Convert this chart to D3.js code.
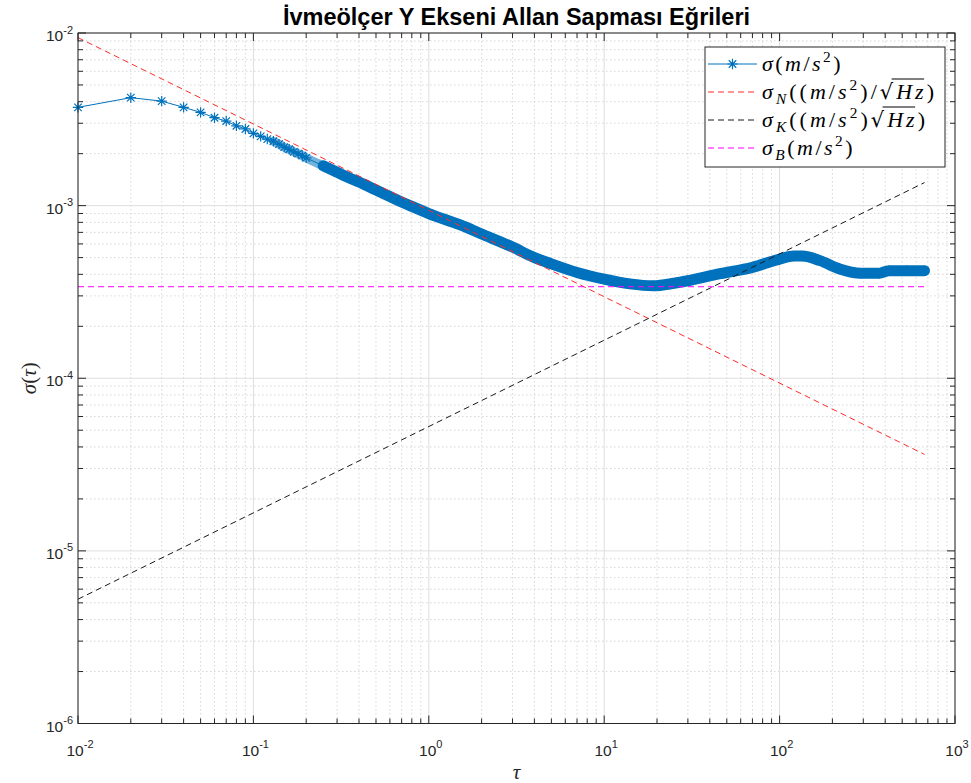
<!DOCTYPE html>
<html><head><meta charset="utf-8">
<script src="https://cdn.jsdelivr.net/npm/d3@7"></script>
<style>
html,body{margin:0;padding:0;background:#fff;}
svg{display:block;}
</style></head>
<body>
<svg id="chart" width="971" height="783"></svg>
<script>
// ---- data ----
const tau = [0.01,0.02,0.03,0.04,0.05,0.06,0.07,0.08,0.09,0.10,0.11,0.12,0.13,0.14,0.15,0.16,0.17,0.18,0.19,0.20,
  0.25,0.3,0.35,0.4,0.5,0.6,0.7,0.8,1.0,1.5,2.0,3.0,4.0,5.0,7.0,10,14,19,25,30,45,70,100,120,135,170,220,290,370,420,530,670];
const sigma = [3.71e-3,4.22e-3,4.03e-3,3.71e-3,3.47e-3,3.23e-3,3.09e-3,2.90e-3,2.78e-3,2.62e-3,2.52e-3,2.43e-3,2.36e-3,2.27e-3,2.18e-3,2.12e-3,2.05e-3,2.00e-3,1.95e-3,1.89e-3,
  1.70e-3,1.56e-3,1.45e-3,1.37e-3,1.23e-3,1.13e-3,1.05e-3,9.9e-4,9.0e-4,7.75e-4,6.85e-4,5.75e-4,5.0e-4,4.6e-4,4.1e-4,3.75e-4,3.52e-4,3.43e-4,3.55e-4,3.67e-4,4.02e-4,4.39e-4,4.90e-4,5.1e-4,5.1e-4,4.8e-4,4.3e-4,4.06e-4,4.06e-4,4.2e-4,4.2e-4,4.2e-4];
const refTau = [0.01, 670];
const sigmaN = [9.4e-3, 3.62e-5];
const sigmaK = [5.25e-6, 1.36e-3];
const sigmaB = [3.39e-4, 3.39e-4];
const xTickExp = [-2,-1,0,1,2,3];
const yTickExp = [-6,-5,-4,-3,-2];
const titleText = "İvmeölçer Y Ekseni Allan Sapması Eğrileri";

// ---- layout ----
const L = 78, R = 955, T = 33, B = 723.5;
const svg = d3.select("#chart");
const x = d3.scaleLog().domain([1e-2, 1e3]).range([L, R]);
const y = d3.scaleLog().domain([1e-6, 1e-2]).range([B, T]);
const axisCol = "#262626";
const sansFont = "'Liberation Sans', Arial, Helvetica, sans-serif";
const serifFont = "'Liberation Serif', 'DejaVu Serif', serif";

const minorX = [], minorY = [];
for (let e = -2; e < 3; e++) for (let m = 2; m <= 9; m++) minorX.push(m * Math.pow(10, e));
for (let e = -6; e < -2; e++) for (let m = 2; m <= 9; m++) minorY.push(m * Math.pow(10, e));
const majorX = xTickExp.map(e => Math.pow(10, e));
const majorY = yTickExp.map(e => Math.pow(10, e));

// grid
const grid = svg.append("g");
grid.selectAll(".mgx").data(minorX).join("line")
  .attr("x1", d => x(d)).attr("x2", d => x(d)).attr("y1", T).attr("y2", B)
  .attr("stroke", "#cccccc").attr("stroke-width", 0.8).attr("stroke-dasharray", "1.5,2.5");
grid.selectAll(".mgy").data(minorY).join("line")
  .attr("y1", d => y(d)).attr("y2", d => y(d)).attr("x1", L).attr("x2", R)
  .attr("stroke", "#cccccc").attr("stroke-width", 0.8).attr("stroke-dasharray", "1.5,2.5");
grid.selectAll(".gx").data(majorX).join("line")
  .attr("x1", d => x(d)).attr("x2", d => x(d)).attr("y1", T).attr("y2", B)
  .attr("stroke", "#dedede").attr("stroke-width", 1);
grid.selectAll(".gy").data(majorY).join("line")
  .attr("y1", d => y(d)).attr("y2", d => y(d)).attr("x1", L).attr("x2", R)
  .attr("stroke", "#dedede").attr("stroke-width", 1);

const plot = svg.append("g");
function refLine(vals, col) {
  const pts = refTau.map((t, i) => [x(t), y(vals[i])]);
  plot.append("path").attr("d", d3.line()(pts)).attr("fill", "none")
    .attr("stroke", col).attr("stroke-width", 1).attr("stroke-dasharray", "6,4");
}

// blue data: thin line, dense band of overlapping markers, markers
const blue = "#0072BD";
const pts = tau.map((t, i) => [x(t), y(sigma[i])]);
plot.append("path").attr("d", d3.line()(pts)).attr("fill", "none").attr("stroke", blue).attr("stroke-width", 1);
const softPts = pts.filter((p, i) => tau[i] >= 0.13 && tau[i] <= 0.4);
plot.append("path").attr("d", d3.line().curve(d3.curveMonotoneX)(softPts)).attr("fill", "none")
  .attr("stroke", blue).attr("stroke-opacity", 0.55).attr("stroke-width", 9).attr("stroke-linecap", "round");
const densePts = pts.filter((p, i) => tau[i] >= 0.25);
plot.append("path").attr("d", d3.line().curve(d3.curveMonotoneX)(densePts)).attr("fill", "none")
  .attr("stroke", blue).attr("stroke-width", 11).attr("stroke-linecap", "round").attr("stroke-linejoin", "round");
function starPath(r) {
  const d = r * 0.72;
  return `M${-r},0L${r},0M0,${-r}L0,${r}M${-d},${-d}L${d},${d}M${-d},${d}L${d},${-d}`;
}
plot.selectAll(".mk").data(pts).join("path")
  .attr("transform", p => `translate(${p[0]},${p[1]})`)
  .attr("d", starPath(5.2)).attr("fill", "none").attr("stroke", blue).attr("stroke-width", 1.2);

refLine(sigmaN, "#ff2a2a");
refLine(sigmaK, "#1a1a1a");
refLine(sigmaB, "#ff00ff");

// axes box
const ax = svg.append("g");
ax.append("rect").attr("x", L).attr("y", T).attr("width", R - L).attr("height", B - T)
  .attr("fill", "none").attr("stroke", axisCol).attr("stroke-width", 1);
function ticksX(vals, len) {
  ax.selectAll(null).data(vals).join("line")
    .attr("x1", d => x(d)).attr("x2", d => x(d)).attr("y1", B).attr("y2", B - len).attr("stroke", axisCol);
  ax.selectAll(null).data(vals).join("line")
    .attr("x1", d => x(d)).attr("x2", d => x(d)).attr("y1", T).attr("y2", T + len).attr("stroke", axisCol);
}
function ticksY(vals, len) {
  ax.selectAll(null).data(vals).join("line")
    .attr("y1", d => y(d)).attr("y2", d => y(d)).attr("x1", L).attr("x2", L + len).attr("stroke", axisCol);
  ax.selectAll(null).data(vals).join("line")
    .attr("y1", d => y(d)).attr("y2", d => y(d)).attr("x1", R).attr("x2", R - len).attr("stroke", axisCol);
}
ticksX(majorX, 8); ticksX(minorX, 5);
ticksY(majorY, 8); ticksY(minorY, 5);

// tick labels
function powLabel(g, e, px, py, anchor) {
  const t = g.append("text").attr("x", px).attr("y", py).attr("text-anchor", anchor)
    .attr("font-family", sansFont).attr("fill", axisCol).attr("font-size", 15.5);
  t.append("tspan").text("10");
  t.append("tspan").attr("dy", -7.5).attr("font-size", 11).text(String(e));
}
xTickExp.forEach(e => powLabel(ax, e, x(Math.pow(10, e)) + 2, B + 32, "middle"));
yTickExp.forEach(e => powLabel(ax, e, L - 5, y(Math.pow(10, e)) + 8, "end"));

// axis labels
svg.append("text").attr("x", (L + R) / 2).attr("y", B + 55).attr("text-anchor", "middle")
  .attr("font-family", serifFont).attr("font-style", "italic").attr("font-size", 21).attr("fill", axisCol).text("τ");
svg.append("text").attr("transform", `translate(36,${(T + B) / 2}) rotate(-90)`).attr("text-anchor", "middle")
  .attr("font-family", serifFont).attr("font-size", 21).attr("fill", axisCol)
  .call(t => {
    t.append("tspan").attr("font-style", "italic").text("σ");
    t.append("tspan").text("(");
    t.append("tspan").attr("font-style", "italic").text("τ");
    t.append("tspan").text(")");
  });

// title
svg.append("text").attr("x", (L + R) / 2).attr("y", 25).attr("text-anchor", "middle")
  .attr("font-family", sansFont).attr("font-weight", "bold").attr("font-size", 23.5).attr("fill", "#000").text(titleText);

// legend
const leg = svg.append("g");
leg.append("rect").attr("x", 705).attr("y", 47).attr("width", 240).attr("height", 120)
  .attr("fill", "#fff").attr("stroke", axisCol).attr("stroke-width", 1);
const legendItems = [
  {col: blue, dash: null, marker: true, w: 81, parts: [["σ","i"],["(","n"],["m","i"],["/","n"],["s","i"],["2","sup"],[")","n"]]},
  {col: "#ff2a2a", dash: "6,4", w: 175, parts: [["σ","i"],["N","sub"],["((","n"],["m","i"],["/","n"],["s","i"],["2","sup"],[")/","n"],["√","n"],["Hz","io"],[")","n"]]},
  {col: "#1a1a1a", dash: "6,4", w: 166, parts: [["σ","i"],["K","sub"],["((","n"],["m","i"],["/","n"],["s","i"],["2","sup"],[")","n"],["√","n"],["Hz","io"],[")","n"]]},
  {col: "#ff00ff", dash: "6,4", w: 93, parts: [["σ","i"],["B","sub"],["(","n"],["m","i"],["/","n"],["s","i"],["2","sup"],[")","n"]]}
];
const rowY = [64, 92, 120, 148];
legendItems.forEach((it, k) => {
  const yy = rowY[k];
  leg.append("line").attr("x1", 708).attr("x2", 757).attr("y1", yy).attr("y2", yy)
    .attr("stroke", it.col).attr("stroke-width", 1).attr("stroke-dasharray", it.dash);
  if (it.marker) leg.append("path").attr("transform", `translate(732.5,${yy})`).attr("d", starPath(5.2))
    .attr("fill", "none").attr("stroke", it.col).attr("stroke-width", 1.2);
  const fs = 22;
  const t = leg.append("text").attr("x", 762).attr("y", yy + 6.5).attr("font-family", serifFont)
    .attr("font-size", fs).attr("fill", "#000");
  let shift = 0, idx = 0, ovStart = -1, ovEnd = -1;
  it.parts.forEach(([s, st]) => {
    const sp = t.append("tspan").text(s);
    let target = 0;
    if (st === "i" || st === "io") sp.attr("font-style", "italic");
    if (st === "sub") { sp.attr("font-style", "italic").attr("font-size", fs * 0.7); target = 5; }
    if (st === "sup") { sp.attr("font-size", fs * 0.7); target = -8.5; }
    sp.attr("dy", target - shift); shift = target;
    if (st === "io") { ovStart = idx; ovEnd = idx + s.length - 1; }
    if (s === "√") sp.attr("font-family", "'DejaVu Serif', serif").attr("font-size", fs * 0.95);
    idx += s.length;
  });
  const n = t.node();
  const nat = n.getComputedTextLength();
  const ls = Math.max(0, (it.w - nat) / idx);
  t.attr("letter-spacing", ls);
  if (ovStart >= 0) {
    const a = n.getExtentOfChar(ovStart - 1), b = n.getExtentOfChar(ovEnd);
    leg.append("line").attr("x1", a.x + a.width - ls - 1.5).attr("x2", b.x + b.width - ls + 0.5)
      .attr("y1", yy - 13).attr("y2", yy - 13).attr("stroke", "#000").attr("stroke-width", 1);
  }
});
</script>
</body></html>
